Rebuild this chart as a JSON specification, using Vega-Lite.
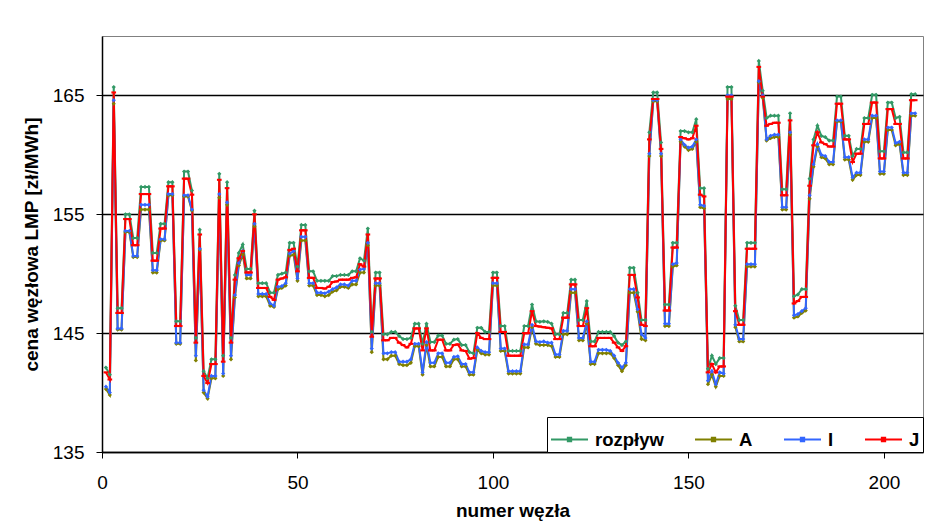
{
  "$schema": "https://vega.github.io/schema/vega-lite/v6.json",
  "width": 821,
  "height": 416,
  "autosize": "none",
  "padding": {"left": 102, "top": 36, "right": 3, "bottom": 73},
  "background": "white",
  "config": {
    "font": "Liberation Sans",
    "view": {"stroke": "#808080", "strokeWidth": 1}
  },
  "data": {"values": [
    {"n":1,"rozpływ":142.1,"A":140.3,"I":140.5,"J":141.7},
    {"n":2,"rozpływ":141.5,"A":139.8,"I":140.0,"J":141.1},
    {"n":3,"rozpływ":165.7,"A":164.3,"I":164.6,"J":165.25},
    {"n":4,"rozpływ":147.1,"A":145.3,"I":145.4,"J":146.7},
    {"n":5,"rozpływ":147.1,"A":145.3,"I":145.4,"J":146.7},
    {"n":6,"rozpływ":155.0,"A":153.5,"I":153.6,"J":154.6},
    {"n":7,"rozpływ":155.0,"A":153.5,"I":153.6,"J":154.6},
    {"n":8,"rozpływ":153.0,"A":151.4,"I":151.5,"J":152.4},
    {"n":9,"rozpływ":153.0,"A":151.4,"I":151.5,"J":152.4},
    {"n":10,"rozpływ":157.3,"A":155.4,"I":155.8,"J":156.7},
    {"n":11,"rozpływ":157.3,"A":155.4,"I":155.8,"J":156.7},
    {"n":12,"rozpływ":157.3,"A":155.4,"I":155.8,"J":156.7},
    {"n":13,"rozpływ":151.75,"A":150.1,"I":150.3,"J":151.1},
    {"n":14,"rozpływ":151.75,"A":150.1,"I":150.3,"J":151.1},
    {"n":15,"rozpływ":154.2,"A":152.8,"I":152.9,"J":153.8},
    {"n":16,"rozpływ":154.2,"A":152.8,"I":152.9,"J":153.8},
    {"n":17,"rozpływ":157.7,"A":156.6,"I":156.7,"J":157.35},
    {"n":18,"rozpływ":157.7,"A":156.6,"I":156.7,"J":157.35},
    {"n":19,"rozpływ":146.0,"A":144.1,"I":144.2,"J":145.6},
    {"n":20,"rozpływ":146.0,"A":144.1,"I":144.2,"J":145.6},
    {"n":21,"rozpływ":158.6,"A":156.5,"I":156.6,"J":158.0},
    {"n":22,"rozpływ":158.6,"A":156.5,"I":156.6,"J":158.0},
    {"n":23,"rozpływ":157.0,"A":155.3,"I":155.4,"J":156.65},
    {"n":24,"rozpływ":144.6,"A":142.7,"I":143.1,"J":144.2},
    {"n":25,"rozpływ":153.7,"A":152.0,"I":152.1,"J":153.3},
    {"n":26,"rozpływ":141.8,"A":140.0,"I":140.2,"J":141.4},
    {"n":27,"rozpływ":141.2,"A":139.5,"I":139.65,"J":140.8},
    {"n":28,"rozpływ":142.8,"A":141.2,"I":141.4,"J":142.4},
    {"n":29,"rozpływ":142.8,"A":141.2,"I":141.4,"J":142.4},
    {"n":30,"rozpływ":158.4,"A":156.4,"I":156.7,"J":157.9},
    {"n":31,"rozpływ":143.1,"A":141.4,"I":141.6,"J":142.6},
    {"n":32,"rozpływ":157.7,"A":155.8,"I":156.0,"J":157.2},
    {"n":33,"rozpływ":144.6,"A":142.8,"I":143.1,"J":144.2},
    {"n":34,"rozpływ":149.9,"A":148.0,"I":148.2,"J":149.5},
    {"n":35,"rozpływ":151.75,"A":150.7,"I":150.9,"J":151.3},
    {"n":36,"rozpływ":152.45,"A":151.6,"I":151.9,"J":151.9},
    {"n":37,"rozpływ":150.4,"A":149.6,"I":149.9,"J":150.1},
    {"n":38,"rozpływ":150.4,"A":149.6,"I":149.9,"J":150.1},
    {"n":39,"rozpływ":155.3,"A":154.0,"I":154.2,"J":155.0},
    {"n":40,"rozpływ":149.2,"A":148.1,"I":148.3,"J":148.8},
    {"n":41,"rozpływ":149.2,"A":148.1,"I":148.3,"J":148.8},
    {"n":42,"rozpływ":149.2,"A":148.1,"I":148.3,"J":148.8},
    {"n":43,"rozpływ":148.4,"A":147.3,"I":147.5,"J":148.05},
    {"n":44,"rozpływ":148.4,"A":147.2,"I":147.3,"J":147.8},
    {"n":45,"rozpływ":149.9,"A":148.7,"I":148.9,"J":149.5},
    {"n":46,"rozpływ":150.0,"A":148.8,"I":148.95,"J":149.6},
    {"n":47,"rozpływ":150.1,"A":149.0,"I":149.2,"J":149.7},
    {"n":48,"rozpływ":152.6,"A":151.5,"I":151.7,"J":152.0},
    {"n":49,"rozpływ":152.6,"A":151.6,"I":151.9,"J":152.1},
    {"n":50,"rozpływ":150.6,"A":149.4,"I":149.6,"J":150.2},
    {"n":51,"rozpływ":154.1,"A":152.8,"I":153.1,"J":153.65},
    {"n":52,"rozpływ":154.1,"A":152.8,"I":153.1,"J":153.65},
    {"n":53,"rozpływ":150.2,"A":149.0,"I":149.2,"J":149.65},
    {"n":54,"rozpływ":150.2,"A":149.0,"I":149.2,"J":149.65},
    {"n":55,"rozpływ":149.4,"A":148.2,"I":148.4,"J":148.8},
    {"n":56,"rozpływ":149.4,"A":148.2,"I":148.4,"J":148.8},
    {"n":57,"rozpływ":149.4,"A":148.1,"I":148.35,"J":148.75},
    {"n":58,"rozpływ":149.4,"A":148.2,"I":148.5,"J":148.9},
    {"n":59,"rozpływ":149.8,"A":148.5,"I":148.7,"J":149.3},
    {"n":60,"rozpływ":149.8,"A":148.6,"I":148.85,"J":149.35},
    {"n":61,"rozpływ":149.9,"A":148.9,"I":149.1,"J":149.5},
    {"n":62,"rozpływ":149.9,"A":148.9,"I":149.1,"J":149.5},
    {"n":63,"rozpływ":149.9,"A":148.8,"I":149.0,"J":149.5},
    {"n":64,"rozpływ":150.2,"A":149.1,"I":149.4,"J":149.65},
    {"n":65,"rozpływ":150.2,"A":149.1,"I":149.4,"J":149.7},
    {"n":66,"rozpływ":151.3,"A":150.1,"I":150.35,"J":150.8},
    {"n":67,"rozpływ":151.1,"A":150.1,"I":150.4,"J":150.6},
    {"n":68,"rozpływ":153.8,"A":152.4,"I":152.6,"J":153.3},
    {"n":69,"rozpływ":145.1,"A":143.4,"I":143.7,"J":144.7},
    {"n":70,"rozpływ":150.1,"A":149.0,"I":149.2,"J":149.6},
    {"n":71,"rozpływ":150.1,"A":149.0,"I":149.2,"J":149.6},
    {"n":72,"rozpływ":144.9,"A":142.8,"I":143.3,"J":144.4},
    {"n":73,"rozpływ":144.9,"A":142.8,"I":143.3,"J":144.4},
    {"n":74,"rozpływ":145.1,"A":143.1,"I":143.4,"J":144.6},
    {"n":75,"rozpływ":145.1,"A":143.1,"I":143.4,"J":144.6},
    {"n":76,"rozpływ":144.75,"A":142.4,"I":142.6,"J":144.2},
    {"n":77,"rozpływ":144.5,"A":142.3,"I":142.6,"J":144.0},
    {"n":78,"rozpływ":144.5,"A":142.3,"I":142.6,"J":143.8},
    {"n":79,"rozpływ":144.6,"A":142.5,"I":142.8,"J":144.1},
    {"n":80,"rozpływ":145.8,"A":143.9,"I":144.1,"J":145.4},
    {"n":81,"rozpływ":145.8,"A":143.9,"I":144.1,"J":145.4},
    {"n":82,"rozpływ":144.1,"A":141.5,"I":141.7,"J":143.55},
    {"n":83,"rozpływ":145.8,"A":144.0,"I":144.25,"J":145.4},
    {"n":84,"rozpływ":144.25,"A":142.2,"I":142.5,"J":143.55},
    {"n":85,"rozpływ":144.25,"A":142.2,"I":142.5,"J":143.55},
    {"n":86,"rozpływ":144.8,"A":143.0,"I":143.3,"J":144.45},
    {"n":87,"rozpływ":144.8,"A":143.0,"I":143.3,"J":144.45},
    {"n":88,"rozpływ":144.1,"A":142.2,"I":142.5,"J":143.55},
    {"n":89,"rozpływ":144.1,"A":142.2,"I":142.5,"J":143.55},
    {"n":90,"rozpływ":144.45,"A":142.8,"I":143.0,"J":144.0},
    {"n":91,"rozpływ":144.5,"A":142.8,"I":143.05,"J":144.05},
    {"n":92,"rozpływ":144.0,"A":142.2,"I":142.4,"J":143.55},
    {"n":93,"rozpływ":144.0,"A":142.2,"I":142.4,"J":143.5},
    {"n":94,"rozpływ":143.4,"A":141.5,"I":141.7,"J":142.85},
    {"n":95,"rozpływ":143.3,"A":141.5,"I":141.7,"J":142.9},
    {"n":96,"rozpływ":145.45,"A":143.6,"I":143.8,"J":145.0},
    {"n":97,"rozpływ":145.45,"A":143.3,"I":143.5,"J":144.6},
    {"n":98,"rozpływ":145.1,"A":143.2,"I":143.4,"J":144.5},
    {"n":99,"rozpływ":145.1,"A":143.2,"I":143.4,"J":144.5},
    {"n":100,"rozpływ":150.1,"A":149.0,"I":149.2,"J":149.65},
    {"n":101,"rozpływ":150.1,"A":149.0,"I":149.2,"J":149.65},
    {"n":102,"rozpływ":145.6,"A":143.5,"I":143.7,"J":145.1},
    {"n":103,"rozpływ":145.6,"A":143.5,"I":143.7,"J":145.1},
    {"n":104,"rozpływ":143.5,"A":141.6,"I":141.8,"J":143.1},
    {"n":105,"rozpływ":143.5,"A":141.6,"I":141.8,"J":143.1},
    {"n":106,"rozpływ":143.5,"A":141.6,"I":141.8,"J":143.1},
    {"n":107,"rozpływ":143.5,"A":141.6,"I":141.8,"J":143.1},
    {"n":108,"rozpływ":145.6,"A":143.8,"I":144.05,"J":145.0},
    {"n":109,"rozpływ":145.6,"A":143.8,"I":144.05,"J":145.0},
    {"n":110,"rozpływ":147.4,"A":145.5,"I":145.7,"J":146.85},
    {"n":111,"rozpływ":146.0,"A":144.1,"I":144.3,"J":145.6},
    {"n":112,"rozpływ":145.95,"A":144.0,"I":144.25,"J":145.55},
    {"n":113,"rozpływ":146.0,"A":144.0,"I":144.3,"J":145.5},
    {"n":114,"rozpływ":145.95,"A":144.0,"I":144.2,"J":145.45},
    {"n":115,"rozpływ":145.8,"A":143.9,"I":144.2,"J":145.4},
    {"n":116,"rozpływ":144.9,"A":143.0,"I":143.2,"J":144.5},
    {"n":117,"rozpływ":144.9,"A":143.0,"I":143.2,"J":144.5},
    {"n":118,"rozpływ":146.7,"A":144.9,"I":145.2,"J":146.3},
    {"n":119,"rozpływ":146.7,"A":144.9,"I":145.2,"J":146.3},
    {"n":120,"rozpływ":149.5,"A":148.4,"I":148.7,"J":149.1},
    {"n":121,"rozpływ":149.5,"A":148.4,"I":148.7,"J":149.1},
    {"n":122,"rozpływ":146.1,"A":144.4,"I":144.6,"J":145.6},
    {"n":123,"rozpływ":146.1,"A":144.4,"I":144.6,"J":145.6},
    {"n":124,"rozpływ":147.7,"A":145.8,"I":146.0,"J":147.1},
    {"n":125,"rozpływ":144.3,"A":142.4,"I":142.6,"J":143.9},
    {"n":126,"rozpływ":144.3,"A":142.4,"I":142.6,"J":143.9},
    {"n":127,"rozpływ":145.1,"A":143.3,"I":143.6,"J":144.6},
    {"n":128,"rozpływ":145.1,"A":143.3,"I":143.6,"J":144.6},
    {"n":129,"rozpływ":145.1,"A":143.3,"I":143.6,"J":144.6},
    {"n":130,"rozpływ":145.1,"A":143.3,"I":143.5,"J":144.6},
    {"n":131,"rozpływ":144.75,"A":142.9,"I":143.1,"J":144.2},
    {"n":132,"rozpływ":144.2,"A":142.3,"I":142.5,"J":143.8},
    {"n":133,"rozpływ":144.0,"A":141.8,"I":142.1,"J":143.5},
    {"n":134,"rozpływ":144.3,"A":142.3,"I":142.5,"J":143.9},
    {"n":135,"rozpływ":150.5,"A":148.4,"I":148.7,"J":149.9},
    {"n":136,"rozpływ":150.5,"A":148.4,"I":148.7,"J":149.9},
    {"n":137,"rozpływ":148.4,"A":146.8,"I":147.0,"J":148.0},
    {"n":138,"rozpływ":146.1,"A":144.5,"I":144.9,"J":145.7},
    {"n":139,"rozpływ":146.1,"A":144.4,"I":144.6,"J":145.6},
    {"n":140,"rozpływ":161.9,"A":159.9,"I":160.1,"J":161.3},
    {"n":141,"rozpływ":165.25,"A":164.5,"I":164.6,"J":164.7},
    {"n":142,"rozpływ":165.25,"A":164.5,"I":164.6,"J":164.7},
    {"n":143,"rozpływ":161.05,"A":159.9,"I":160.1,"J":160.5},
    {"n":144,"rozpływ":147.4,"A":145.6,"I":145.8,"J":146.9},
    {"n":145,"rozpływ":147.4,"A":145.6,"I":145.8,"J":146.9},
    {"n":146,"rozpływ":152.6,"A":150.6,"I":150.8,"J":152.2},
    {"n":147,"rozpływ":152.6,"A":150.7,"I":150.9,"J":152.2},
    {"n":148,"rozpływ":162.0,"A":161.1,"I":161.3,"J":161.5},
    {"n":149,"rozpływ":162.0,"A":160.7,"I":160.85,"J":161.4},
    {"n":150,"rozpływ":161.9,"A":160.4,"I":160.6,"J":161.3},
    {"n":151,"rozpływ":161.9,"A":160.5,"I":160.7,"J":161.4},
    {"n":152,"rozpływ":163.0,"A":161.1,"I":161.3,"J":162.45},
    {"n":153,"rozpływ":157.2,"A":155.6,"I":155.8,"J":156.65},
    {"n":154,"rozpływ":157.2,"A":155.5,"I":155.7,"J":156.5},
    {"n":155,"rozpływ":142.0,"A":140.7,"I":141.0,"J":141.7},
    {"n":156,"rozpływ":143.1,"A":141.5,"I":141.8,"J":142.4},
    {"n":157,"rozpływ":142.4,"A":140.5,"I":140.7,"J":141.7},
    {"n":158,"rozpływ":142.9,"A":141.4,"I":141.7,"J":142.2},
    {"n":159,"rozpływ":142.9,"A":141.4,"I":141.6,"J":142.2},
    {"n":160,"rozpływ":165.7,"A":164.7,"I":165.0,"J":164.9},
    {"n":161,"rozpływ":165.7,"A":164.7,"I":165.0,"J":164.9},
    {"n":162,"rozpływ":147.3,"A":145.5,"I":145.7,"J":146.85},
    {"n":163,"rozpływ":146.1,"A":144.3,"I":144.5,"J":145.7},
    {"n":164,"rozpływ":146.1,"A":144.3,"I":144.5,"J":145.7},
    {"n":165,"rozpływ":152.6,"A":150.6,"I":150.8,"J":152.1},
    {"n":166,"rozpływ":152.6,"A":150.6,"I":150.8,"J":152.1},
    {"n":167,"rozpływ":152.6,"A":150.6,"I":150.8,"J":152.1},
    {"n":168,"rozpływ":167.9,"A":166.1,"I":166.2,"J":167.4},
    {"n":169,"rozpływ":165.4,"A":164.8,"I":165.0,"J":164.9},
    {"n":170,"rozpływ":163.1,"A":161.2,"I":161.3,"J":162.45},
    {"n":171,"rozpływ":163.3,"A":161.4,"I":161.6,"J":162.6},
    {"n":172,"rozpływ":163.3,"A":161.5,"I":161.7,"J":162.7},
    {"n":173,"rozpływ":163.3,"A":161.5,"I":161.7,"J":162.7},
    {"n":174,"rozpływ":157.1,"A":155.4,"I":155.6,"J":156.6},
    {"n":175,"rozpływ":157.1,"A":155.4,"I":155.6,"J":156.6},
    {"n":176,"rozpływ":163.5,"A":161.7,"I":161.9,"J":162.9},
    {"n":177,"rozpływ":148.1,"A":146.3,"I":146.5,"J":147.5},
    {"n":178,"rozpływ":148.25,"A":146.4,"I":146.6,"J":147.7},
    {"n":179,"rozpływ":148.7,"A":146.7,"I":146.85,"J":148.05},
    {"n":180,"rozpływ":148.7,"A":146.9,"I":147.1,"J":148.05},
    {"n":181,"rozpływ":158.0,"A":156.3,"I":156.6,"J":157.4},
    {"n":182,"rozpływ":161.3,"A":159.0,"I":159.2,"J":160.8},
    {"n":183,"rozpływ":162.45,"A":160.7,"I":160.9,"J":161.9},
    {"n":184,"rozpływ":161.6,"A":159.8,"I":160.0,"J":161.05},
    {"n":185,"rozpływ":161.5,"A":159.7,"I":159.9,"J":160.9},
    {"n":186,"rozpływ":161.2,"A":159.2,"I":159.4,"J":160.7},
    {"n":187,"rozpływ":161.2,"A":159.2,"I":159.4,"J":160.7},
    {"n":188,"rozpływ":164.9,"A":162.8,"I":162.9,"J":164.3},
    {"n":189,"rozpływ":164.9,"A":162.8,"I":162.9,"J":164.3},
    {"n":190,"rozpływ":161.6,"A":159.6,"I":159.8,"J":161.3},
    {"n":191,"rozpływ":161.6,"A":159.6,"I":159.8,"J":161.3},
    {"n":192,"rozpływ":159.9,"A":157.9,"I":158.1,"J":159.4},
    {"n":193,"rozpływ":160.5,"A":158.3,"I":158.5,"J":160.1},
    {"n":194,"rozpływ":160.5,"A":158.3,"I":158.5,"J":160.1},
    {"n":195,"rozpływ":163.1,"A":161.1,"I":161.3,"J":162.6},
    {"n":196,"rozpływ":163.1,"A":161.1,"I":161.3,"J":162.6},
    {"n":197,"rozpływ":165.05,"A":163.1,"I":163.3,"J":164.4},
    {"n":198,"rozpływ":165.05,"A":163.1,"I":163.3,"J":164.4},
    {"n":199,"rozpływ":160.3,"A":158.4,"I":158.6,"J":159.7},
    {"n":200,"rozpływ":160.3,"A":158.4,"I":158.6,"J":159.7},
    {"n":201,"rozpływ":164.4,"A":162.1,"I":162.3,"J":163.85},
    {"n":202,"rozpływ":164.4,"A":162.1,"I":162.3,"J":163.85},
    {"n":203,"rozpływ":163.1,"A":160.8,"I":161.0,"J":162.6},
    {"n":204,"rozpływ":163.2,"A":160.9,"I":161.1,"J":162.6},
    {"n":205,"rozpływ":160.2,"A":158.3,"I":158.5,"J":159.7},
    {"n":206,"rozpływ":160.2,"A":158.3,"I":158.5,"J":159.7},
    {"n":207,"rozpływ":165.1,"A":163.3,"I":163.5,"J":164.6},
    {"n":208,"rozpływ":165.1,"A":163.3,"I":163.5,"J":164.6}
  ]},
  "transform": [{"fold": ["rozpływ", "A", "I", "J"], "as": ["seria", "cena"]}],
  "encoding": {
    "x": {
      "field": "n", "type": "quantitative",
      "scale": {"domain": [0, 210], "nice": false, "zero": false},
      "axis": {
        "values": [0, 50, 100, 150, 200],
        "title": "numer węzła",
        "titleFont": "Liberation Sans", "titleFontSize": 19, "titleFontWeight": "bold", "titleColor": "#000",
        "titlePadding": 9,
        "labelFontSize": 19, "labelColor": "#000", "labelFlush": false, "labelOverlap": false,
        "labelPadding": 15,
        "tickSize": 6, "tickColor": "#000", "domainColor": "#000", "domainWidth": 1.5,
        "grid": false
      }
    },
    "y": {
      "field": "cena", "type": "quantitative",
      "scale": {"domain": [135, 170], "nice": false, "zero": false},
      "axis": {
        "values": [135, 145, 155, 165],
        "title": "cena węzłowa  LMP  [zł/MWh]",
        "titleFont": "Liberation Sans", "titleFontSize": 19, "titleFontWeight": "bold", "titleColor": "#000",
        "titlePadding": 11,
        "labelFontSize": 19, "labelColor": "#000", "labelPadding": 12,
        "tickSize": 6, "tickColor": "#000", "domainColor": "#000", "domainWidth": 1.5,
        "grid": true, "gridColor": "#000", "gridWidth": 1.5, "gridOpacity": 1
      }
    },
    "color": {
      "field": "seria", "type": "nominal",
      "scale": {"domain": ["rozpływ", "A", "I", "J"], "range": ["#339966", "#808000", "#3366FF", "#FF0000"]},
      "legend": {
        "title": null,
        "orient": "bottom-right",
        "offset": 0,
        "direction": "horizontal",
        "fillColor": "white",
        "strokeColor": "#000",
        "padding": 3,
        "labelFont": "Liberation Sans",
        "labelFontSize": 18.5,
        "labelFontWeight": "bold",
        "labelColor": "#000",
        "labelOffset": 6,
        "columnPadding": 27,
        "symbolType": "M-1,0H1M-0.09,-0.09H0.09V0.09H-0.09Z",
        "symbolSize": 1369,
        "symbolStrokeWidth": 2,
        "encode": {"symbols": {"update": {"fill": {"scale": "color", "field": "value"}}}}
      }
    }
  },
  "layer": [
    {
      "mark": {"type": "line", "strokeWidth": 2, "interpolate": "linear"}
    },
    {
      "transform": [{"filter": "datum.seria !== 'J'"}],
      "mark": {"type": "point", "filled": true, "size": 18, "opacity": 1, "shape": "diamond"}
    },
    {
      "transform": [{"filter": "datum.seria === 'J'"}],
      "mark": {"type": "point", "filled": true, "size": 22, "opacity": 1, "shape": "M-1,-0.45H1V0.45H-1Z"}
    }
  ]
}
